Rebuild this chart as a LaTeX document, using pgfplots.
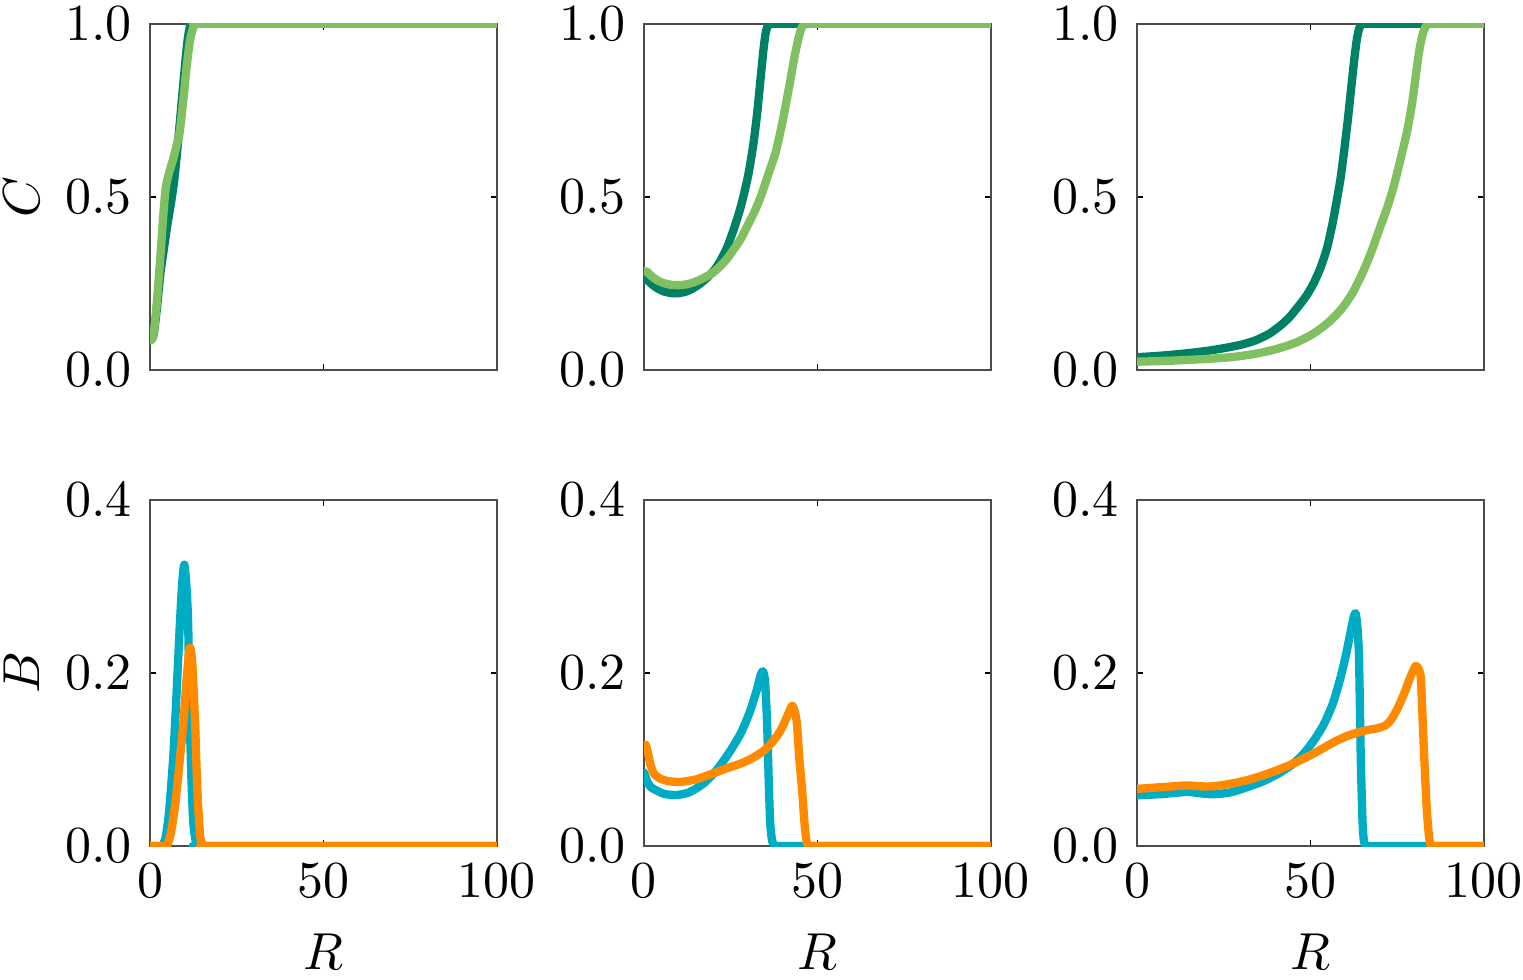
\documentclass[border=0pt]{standalone}
\usepackage{pgfplots}
\pgfplotsset{compat=1.18}
\definecolor{dgreen}{RGB}{0,128,100}
\definecolor{lgreen}{RGB}{128,192,96}
\definecolor{mycyan}{RGB}{0,172,196}
\definecolor{myorange}{RGB}{255,138,0}
\pgfplotsset{
  panel/.style={
    scale only axis, width=66.7pt, height=66.6pt,
    xmin=0, xmax=100, xtick={0,50,100},
    axis line style={black!70, line width=0.35pt},
    major tick length=1.2pt, tick style={black, line width=0.35pt},
    tick align=inside,
    ylabel style={yshift=-2pt},
    every axis plot/.append style={line width=1.6pt, line join=round, line cap=round, smooth, tension=0.4},
    clip=true,
  },
  ctop/.style={panel, ymin=0, ymax=1, ytick={0,0.5,1}, xticklabels={},
    yticklabel style={/pgf/number format/.cd, fixed, fixed zerofill, precision=1}},
  bbot/.style={panel, ymin=0, ymax=0.4, ytick={0,0.2,0.4}, xlabel={$R$},
    yticklabel style={/pgf/number format/.cd, fixed, fixed zerofill, precision=1}},
}
\begin{document}
\begin{tikzpicture}
% ---------- top row ----------
\begin{axis}[ctop, at={(28.85pt,-71.15pt)}, anchor=south west, ylabel={$C$}]
\addplot[dgreen] coordinates {(0,0.085)(1,0.1)(2,0.18)(3,0.28)(4,0.35)(5,0.42)(6,0.48)(7,0.55)(8,0.65)(9,0.76)(10,0.87)(10.8,0.95)(11.5,0.99)(12.5,1)(14,1)(16,1)(100,1)};
\addplot[lgreen] coordinates {(0,0.085)(1,0.1)(2,0.2)(3,0.33)(4,0.47)(4.6,0.53)(5.5,0.57)(6.7,0.61)(7.7,0.65)(8.6,0.69)(9.6,0.78)(10.5,0.87)(11.5,0.95)(12.5,0.99)(13.5,1.0)(15,1)(17,1)(100,1)};
\end{axis}
\begin{axis}[ctop, at={(123.84pt,-71.15pt)}, anchor=south west]
\addplot[dgreen] coordinates {(0,0.27)(2,0.25)(4,0.235)(6,0.226)(8,0.222)(10,0.222)(12,0.226)(14,0.235)(16,0.248)(18,0.265)(20,0.285)(22,0.315)(24,0.355)(26,0.41)(28,0.475)(30,0.56)(31.5,0.65)(32.6,0.739)(33.6,0.84)(34.5,0.93)(35.2,0.98)(36,0.998)(37,1)(39,1)(41,1)(100,1)};
\addplot[lgreen] coordinates {(0,0.285)(1,0.283)(2,0.272)(4,0.258)(6,0.25)(8,0.246)(10,0.245)(12,0.247)(14,0.252)(16,0.26)(18,0.27)(20,0.282)(22,0.3)(24,0.322)(26,0.35)(28,0.38)(30,0.42)(32,0.46)(34,0.51)(36,0.57)(38,0.63)(40,0.72)(42,0.826)(43.5,0.91)(44.6,0.96)(45.5,0.99)(46.5,1)(48.5,1)(50.5,1)(100,1)};
\end{axis}
\begin{axis}[ctop, at={(218.65pt,-71.15pt)}, anchor=south west]
\addplot[dgreen] coordinates {(0,0.037)(5,0.040)(10,0.044)(15,0.049)(20,0.055)(25,0.063)(30,0.073)(34,0.085)(38,0.104)(41.3,0.128)(44,0.153)(47,0.19)(49,0.217)(51,0.252)(53,0.298)(54.8,0.353)(56.3,0.42)(57.6,0.49)(58.7,0.555)(59.8,0.64)(60.8,0.725)(61.7,0.81)(62.5,0.885)(63.3,0.95)(64,0.985)(64.8,0.998)(66,1)(68,1)(70,1)(100,1)};
\addplot[lgreen] coordinates {(0,0.024)(10,0.027)(20,0.032)(27,0.037)(33,0.045)(38,0.055)(42,0.066)(46,0.08)(50,0.1)(53,0.12)(56,0.145)(59,0.177)(62,0.22)(65,0.28)(67.5,0.34)(70,0.41)(72,0.465)(74,0.53)(76,0.61)(77.9,0.691)(79.3,0.77)(80.5,0.86)(81.5,0.93)(82.5,0.975)(83.5,0.996)(85,1)(87,1)(89,1)(100,1)};
\end{axis}
% ---------- bottom row ----------
\begin{axis}[bbot, at={(28.85pt,-162.69pt)}, anchor=south west, ylabel={$B$}]
\addplot[mycyan] coordinates {(0,0)(2,0)(3.4,0)(4.5,0.01)(5.5,0.04)(6.7,0.103)(7.7,0.18)(8.6,0.256)(9.3,0.305)(9.9,0.325)(10.5,0.30)(11,0.256)(11.5,0.141)(12,0.07)(12.5,0.026)(13.2,0.005)(13.9,0)(15,0)(17,0)(100,0)};
\addplot[myorange] coordinates {(0,0)(3,0)(4.8,0)(6,0.015)(7,0.04)(7.7,0.064)(8.6,0.1)(9.6,0.141)(10.5,0.19)(11.2,0.222)(11.6,0.229)(12.2,0.21)(13,0.141)(13.5,0.08)(13.9,0.045)(14.5,0.01)(15.4,0)(17,0)(19,0)(100,0)};
\end{axis}
\begin{axis}[bbot, at={(123.84pt,-162.69pt)}, anchor=south west]
\addplot[mycyan] coordinates {(0,0.085)(1,0.074)(2,0.068)(3.7,0.064)(6,0.06)(9.5,0.059)(13,0.062)(17.1,0.072)(21,0.088)(24.9,0.110)(28,0.131)(30.6,0.156)(32.5,0.18)(33.6,0.197)(34.3,0.202)(34.9,0.19)(35.5,0.141)(36,0.07)(36.4,0.026)(37,0.005)(37.9,0)(39,0)(41,0)(100,0)};
\addplot[myorange] coordinates {(0,0.116)(0.5,0.117)(1,0.11)(2,0.092)(3,0.083)(4.6,0.078)(7,0.075)(10.4,0.074)(15,0.077)(20,0.084)(24,0.09)(27.7,0.095)(31,0.101)(34.5,0.110)(37,0.12)(39.3,0.133)(41.3,0.15)(42.7,0.162)(43.5,0.155)(44.1,0.141)(44.8,0.1)(45.6,0.064)(46.3,0.025)(47,0.003)(48,0)(49.5,0)(51,0)(100,0)};
\end{axis}
\begin{axis}[bbot, at={(218.65pt,-162.69pt)}, anchor=south west]
\addplot[mycyan] coordinates {(0,0.0586)(7,0.06)(14.4,0.0625)(18,0.061)(22,0.0598)(27,0.062)(31.7,0.068)(36.5,0.075)(41.3,0.085)(45,0.095)(48.1,0.107)(51,0.122)(53.9,0.141)(56.5,0.165)(58.7,0.195)(60.3,0.222)(61.6,0.248)(62.5,0.265)(63,0.269)(63.5,0.255)(64,0.218)(64.5,0.103)(65,0.03)(65.4,0.006)(66,0)(67.5,0)(69,0)(100,0)};
\addplot[myorange] coordinates {(0,0.066)(7,0.068)(14.4,0.070)(18,0.069)(22,0.069)(27,0.072)(31.7,0.076)(36.5,0.082)(41.3,0.089)(46,0.097)(51,0.107)(54.5,0.115)(57.7,0.122)(60.5,0.127)(63.5,0.131)(66.5,0.134)(69.3,0.136)(71.5,0.139)(73.1,0.145)(75,0.158)(77,0.176)(78.8,0.195)(80.3,0.208)(81.1,0.205)(81.8,0.195)(82.3,0.15)(82.8,0.103)(83.5,0.045)(84.2,0.01)(84.8,0)(86,0)(88,0)(100,0)};
\end{axis}
\pgfresetboundingbox
\path[use as bounding box] (0pt,0pt) rectangle (292.87pt,-188.45pt);
\end{tikzpicture}
\end{document}
